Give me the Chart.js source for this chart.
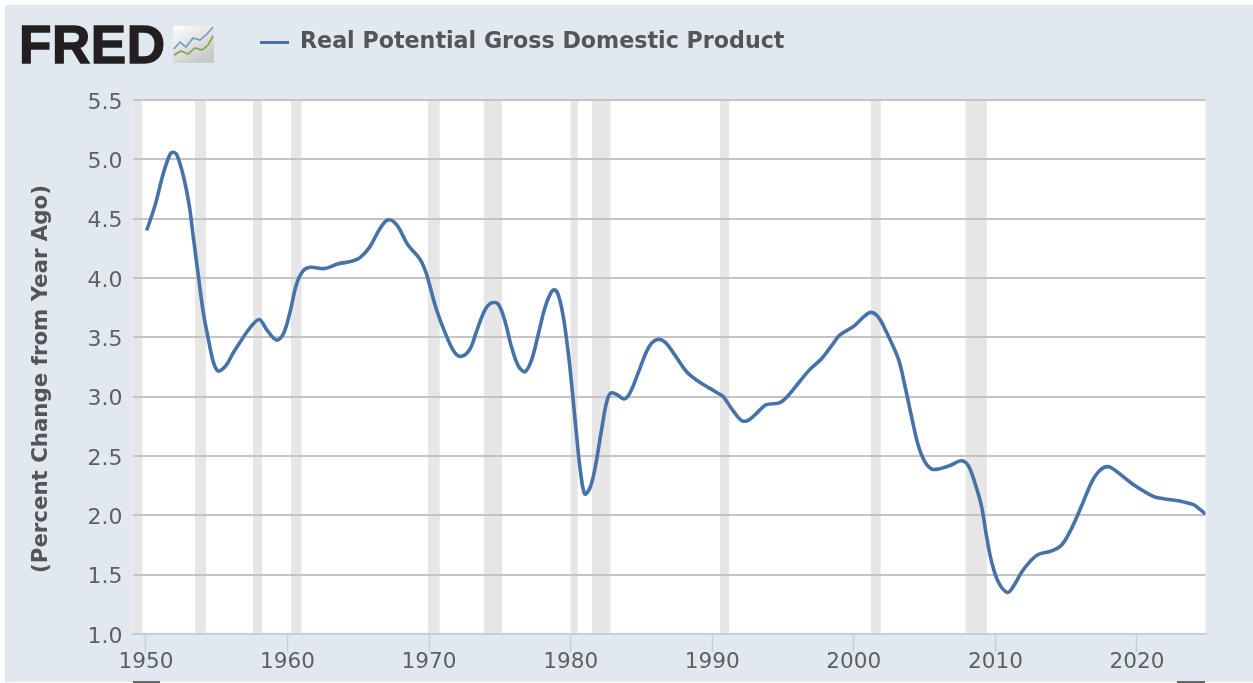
<!DOCTYPE html>
<html><head><meta charset="utf-8">
<script src="https://cdn.jsdelivr.net/npm/chart.js@4/dist/chart.umd.min.js"></script>
<style>
html,body{margin:0;padding:0;background:#fff;width:1253px;height:683px;overflow:hidden}
#panel{position:absolute;left:5px;top:5px;width:1248px;height:677px;background:#e1e9f0}
#chart{position:absolute;left:0;top:0}
#logo{position:absolute;left:19px;top:17px;font:bold 53px/56px "Liberation Sans",sans-serif;color:#231f20;-webkit-text-stroke:1.4px #231f20;letter-spacing:0.6px}
#icon{position:absolute;left:173px;top:26px}
#legline{position:absolute;left:260px;top:41px;width:29px;height:3px;background:#4572a7}
#legtext{position:absolute;left:300px;top:26px;font:bold 22.2px/28px "DejaVu Sans",sans-serif;color:#555;white-space:nowrap}
.nav{position:absolute;top:681px;height:2px;background:#666}
</style></head>
<body>
<div id="panel"></div>
<canvas id="chart" width="1253" height="683"></canvas>
<div id="logo">FRED</div>
<svg id="icon" width="42" height="38" viewBox="0 0 42 38">
<defs><linearGradient id="g" x1="0" y1="0" x2="0.6" y2="1"><stop offset="0" stop-color="#fff"/><stop offset="1" stop-color="#c9c9c9"/></linearGradient></defs>
<rect width="41" height="37" rx="2" fill="url(#g)"/>
<polyline points="1,23 7,16 13,21 20,12 27,14 34,8 40,1" fill="none" stroke="#6d9bc3" stroke-width="1.6"/>
<polyline points="1,29 8,25 15,28 22,22 29,24 35,19 40,10" fill="none" stroke="#79a84a" stroke-width="1.6"/>
</svg>
<div id="legline"></div>
<div id="legtext">Real Potential Gross Domestic Product</div>
<div class="nav" style="left:133px;width:27px"></div>
<div class="nav" style="left:1177px;width:28px"></div>
<script>
const years=[1950.05,1950.64,1951.2,1951.65,1951.88,1952.17,1952.64,1953.06,1953.34,1953.7,1954.05,1954.4,1954.76,1955.04,1955.27,1955.7,1956.17,1956.76,1957.35,1958.0,1958.5,1959.04,1959.35,1959.75,1960.17,1960.64,1961.1,1961.6,1962.64,1963.6,1964.5,1965.1,1965.8,1966.5,1967.1,1967.7,1968.5,1969.35,1969.8,1970.06,1970.53,1971.23,1971.82,1972.29,1972.88,1973.35,1973.94,1974.41,1974.88,1975.35,1975.82,1976.3,1976.77,1977.24,1977.7,1978.18,1978.58,1978.84,1979.12,1979.47,1979.83,1980.13,1980.42,1980.7,1981.0,1981.36,1981.71,1982.18,1982.53,1982.82,1983.24,1983.76,1984.18,1984.77,1985.48,1986.07,1986.66,1987.36,1988.19,1989.01,1989.83,1990.54,1990.78,1991.48,1992.07,1992.54,1993.13,1993.79,1994.78,1995.37,1996.19,1996.9,1997.72,1998.43,1999.02,1999.96,2000.67,2001.19,2001.73,2002.32,2003.14,2003.61,2004.08,2004.55,2005.02,2005.5,2005.97,2006.79,2007.6,2008.08,2008.56,2009.03,2009.38,2009.73,2010.2,2010.84,2011.26,2011.85,2012.44,2013.03,2013.97,2014.68,2015.38,2016.09,2016.8,2017.39,2017.97,2018.56,2019.74,2021.15,2021.86,2023.04,2023.98,2024.45,2024.84];
const gdpGrowth=[4.40,4.61,4.87,5.03,5.06,5.04,4.86,4.61,4.35,4.02,3.71,3.49,3.29,3.22,3.22,3.27,3.37,3.48,3.58,3.65,3.57,3.49,3.48,3.54,3.71,3.95,4.06,4.09,4.08,4.12,4.14,4.17,4.26,4.41,4.49,4.45,4.28,4.16,4.04,3.93,3.73,3.51,3.37,3.34,3.40,3.55,3.73,3.79,3.78,3.64,3.42,3.26,3.21,3.31,3.52,3.75,3.87,3.90,3.86,3.68,3.37,3.03,2.67,2.36,2.18,2.23,2.39,2.72,2.95,3.03,3.02,2.98,3.03,3.20,3.41,3.48,3.46,3.35,3.21,3.13,3.07,3.02,3.0,2.88,2.80,2.80,2.86,2.93,2.95,3.01,3.13,3.23,3.32,3.43,3.52,3.59,3.67,3.71,3.67,3.54,3.32,3.09,2.83,2.59,2.45,2.39,2.39,2.42,2.46,2.42,2.27,2.07,1.82,1.61,1.44,1.35,1.40,1.52,1.61,1.67,1.70,1.75,1.89,2.08,2.28,2.38,2.41,2.37,2.26,2.16,2.14,2.12,2.09,2.05,2.01];
const recessionStart=[1949.05,1953.47,1957.56,1960.25,1969.92,1973.87,1980.0,1981.5,1990.55,2001.2,2007.9];
const recessionEnd=[1949.75,1954.25,1958.2,1961.0,1970.75,1975.15,1980.5,1982.8,1991.2,2001.9,2009.4];
const yTicks=[1,1.5,2,2.5,3,3.5,4,4.5,5,5.5];
const seriesName="Real Potential Gross Domestic Product";
const axisTitle="(Percent Change from Year Ago)";

const bandPlugin={id:'bands',beforeDraw(c){
  const a=c.chartArea,x=c.scales.x,g=c.ctx;
  g.save();g.fillStyle='#fff';g.fillRect(a.left,a.top,a.width,a.height);
  g.fillStyle='#e6e6e6';
  recessionStart.forEach((s,i)=>{const l=x.getPixelForValue(s),r=x.getPixelForValue(recessionEnd[i]);g.fillRect(l,a.top,r-l,a.height);});
  g.restore();
},afterDraw(c){
  const g=c.ctx;g.save();g.translate(41,379);g.rotate(-Math.PI/2);
  g.font='bold 21.3px "DejaVu Sans",sans-serif';g.fillStyle='#555';g.textAlign='center';g.textBaseline='middle';
  g.fillText(axisTitle,0,0);g.restore();
}};
new Chart(document.getElementById('chart'),{
  type:'line',
  data:{datasets:[{label:seriesName,data:years.map((y,i)=>({x:y,y:gdpGrowth[i]})),borderColor:'#4572a7',borderWidth:3.6,pointRadius:0,tension:0.35,fill:false}]},
  plugins:[bandPlugin],
  options:{
    responsive:false,animation:false,
    layout:{padding:{left:0,top:100,right:47.5,bottom:0}},
    plugins:{legend:{display:false},tooltip:{enabled:false}},
    scales:{
      x:{type:'linear',min:1949.05,max:2024.84,
        afterFit(s){s.height=49;},
        grid:{drawOnChartArea:false,drawTicks:true,tickLength:18,tickColor:'#c0d0e0',tickWidth:1.5},
        border:{display:true,color:'#c0d0e0',width:2},
        ticks:{stepSize:10,includeBounds:false,maxRotation:0,padding:-3,color:'#606060',font:{family:'"DejaVu Sans",sans-serif',size:21.6},callback:v=>String(v)}},
      y:{min:1,max:5.5,
        afterFit(s){s.width=132.5;},
        afterBuildTicks(s){s.ticks=yTicks.map(v=>({value:v}));},
        grid:{drawTicks:false,lineWidth:2,color:c=>c.tick&&c.tick.value===1?'rgba(0,0,0,0)':'#c4c4c4'},
        border:{display:false},
        ticks:{padding:10,color:'#606060',font:{family:'"DejaVu Sans",sans-serif',size:22,lineHeight:'6px'},callback:v=>['',v.toFixed(1)]}}
    }
  }
});
</script>
</body></html>
